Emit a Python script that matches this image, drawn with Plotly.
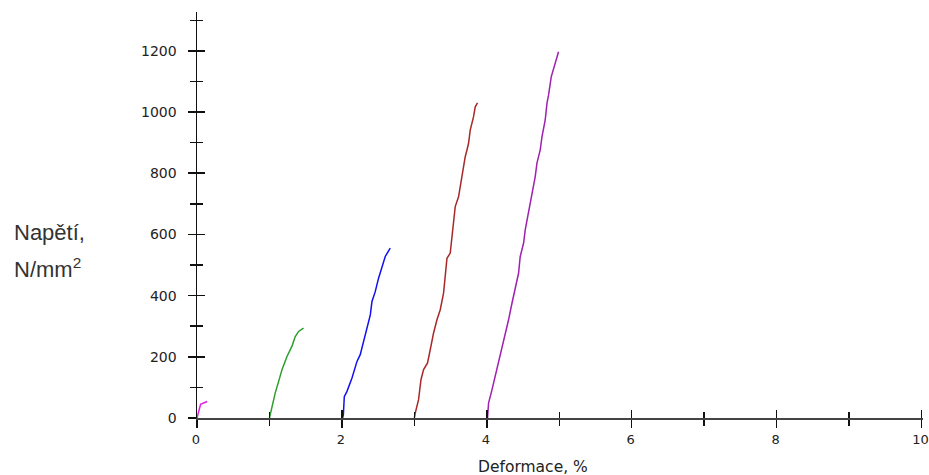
import plotly.graph_objects as go

# Stress-strain curves (strain %, stress N/mm2)
s1_x = [0.0, 0.02, 0.05, 0.14]
s1_y = [0, 20, 45, 54]

s2_x = [1.0, 1.035, 1.08, 1.126, 1.173, 1.242, 1.311, 1.356, 1.402, 1.471]
s2_y = [0, 38, 82, 119, 158, 201, 235, 266, 283, 294]

s3_x = [2.01, 2.02, 2.033, 2.07, 2.139, 2.208, 2.253, 2.299, 2.346, 2.392, 2.415, 2.46,
        2.506, 2.553, 2.598, 2.667]
s3_y = [0, 11, 70, 87, 131, 185, 207, 250, 288, 337, 381, 413, 457, 490, 528, 555]

s4_x = [3.0, 3.012, 3.058, 3.091, 3.127, 3.182, 3.219, 3.265, 3.312, 3.357, 3.403, 3.426,
        3.45, 3.495, 3.519, 3.541, 3.564, 3.61, 3.633, 3.657, 3.679, 3.702, 3.726, 3.748,
        3.771, 3.795, 3.817, 3.84, 3.872]
s4_y = [0, 16, 60, 125, 158, 180, 223, 278, 321, 354, 408, 462, 522, 539, 593, 637, 691,
        723, 756, 800, 821, 854, 876, 898, 941, 963, 985, 1017, 1030]

s5_x = [4.01, 4.024, 4.071, 4.116, 4.162, 4.209, 4.254, 4.3, 4.347, 4.392, 4.438, 4.461,
        4.507, 4.53, 4.576, 4.623, 4.668, 4.692, 4.737, 4.761, 4.806, 4.83, 4.852, 4.889,
        4.92, 4.954, 4.99]
s5_y = [0, 49, 92, 136, 180, 223, 266, 321, 375, 419, 473, 528, 571, 615, 669, 735, 789,
        833, 876, 919, 974, 1028, 1055, 1115, 1143, 1170, 1197]

series = [
    (s1_x, s1_y, "#e020e0"),
    (s2_x, s2_y, "#2e9e2e"),
    (s3_x, s3_y, "#1010f0"),
    (s4_x, s4_y, "#a82828"),
    (s5_x, s5_y, "#a020b0"),
]

x_ticks = [0, 2, 4, 6, 8, 10]
y_ticks = [0, 200, 400, 600, 800, 1000, 1200]
x_title = "Deformace, %"
y_title_1 = "Napětí,"
y_title_2 = "N/mm<sup>2</sup>"

X_RANGE = [0, 10.02]
Y_RANGE = [0, 1327]

fig = go.Figure()
for i, (xs, ys, col) in enumerate(series):
    fig.add_trace(go.Scatter(
        x=xs, y=ys, mode="lines",
        line=dict(color=col, width=1.5, shape="linear"),
        showlegend=False, hoverinfo="skip",
        xaxis="x2" if i == 0 else "x", yaxis="y2" if i == 0 else "y",
    ))

x_tick_font = dict(family="DejaVu Sans", size=13, color="#222222")
y_tick_font = dict(family="DejaVu Sans", size=14, color="#222222")

fig.update_layout(
    width=929, height=475,
    margin=dict(l=197, r=6, t=12, b=57, autoexpand=False),
    paper_bgcolor="white", plot_bgcolor="white",
    hovermode=False,
    xaxis=dict(
        range=X_RANGE, tickvals=x_ticks, ticktext=[str(v) for v in x_ticks],
        showline=True, linecolor="#444444", linewidth=1.5,
        ticks="outside", ticklen=8, tickwidth=1.5, tickcolor="#111111",
        minor=dict(dtick=1, tick0=0, ticks="outside", ticklen=6, tickwidth=1.5, tickcolor="#111111"),
        showgrid=False, zeroline=False, tickfont=x_tick_font, ticklabelstandoff=1,
        ticklabeloverflow="allow", ticklabelshift=-1,
    ),
    yaxis=dict(
        range=Y_RANGE, tickvals=y_ticks, ticktext=[str(v) for v in y_ticks],
        showline=True, linecolor="#111111", linewidth=1.5,
        ticks="outside", ticklen=8, tickwidth=1.5, tickcolor="#111111",
        minor=dict(dtick=100, tick0=0, ticks="outside", ticklen=6, tickwidth=1.5, tickcolor="#111111"),
        showgrid=False, zeroline=False, tickfont=y_tick_font, ticklabelstandoff=8,
    ),
    xaxis2=dict(
        range=X_RANGE, overlaying="x", anchor="y2", tickvals=x_ticks, showticklabels=False,
        ticks="inside", ticklen=8, tickwidth=1.5, tickcolor="#111111",
        minor=dict(dtick=1, tick0=0, ticks="inside", ticklen=6, tickwidth=1.5, tickcolor="#111111"),
        showline=False, showgrid=False, zeroline=False,
    ),
    yaxis2=dict(
        range=Y_RANGE, overlaying="y", anchor="x2", side="left", tickvals=y_ticks, showticklabels=False,
        ticks="inside", ticklen=8, tickwidth=1.5, tickcolor="#111111",
        minor=dict(dtick=100, tick0=0, ticks="inside", ticklen=6, tickwidth=1.5, tickcolor="#111111"),
        showline=False, showgrid=False, zeroline=False,
    ),
    annotations=[
        dict(text=x_title, xref="paper", yref="paper", x=0.4627, y=-0.12,
             xanchor="center", yanchor="middle", showarrow=False,
             font=dict(family="DejaVu Sans", size=15.5, color="#222222")),
        dict(text=y_title_1, xref="paper", yref="paper", x=-0.2553, y=0.4557,
             xanchor="left", yanchor="middle", showarrow=False,
             font=dict(family="Liberation Sans", size=22, color="#333333")),
        dict(text=y_title_2, xref="paper", yref="paper", x=-0.2553, y=0.3697,
             xanchor="left", yanchor="middle", showarrow=False,
             font=dict(family="Liberation Sans", size=22, color="#333333")),
    ],
)

fig.write_html(
    "out.html",
    config={"displayModeBar": False, "staticPlot": True},
    post_script=("document.body.style.margin='0';document.body.style.overflow='hidden';"
                 "document.documentElement.style.overflow='hidden';"),
)
